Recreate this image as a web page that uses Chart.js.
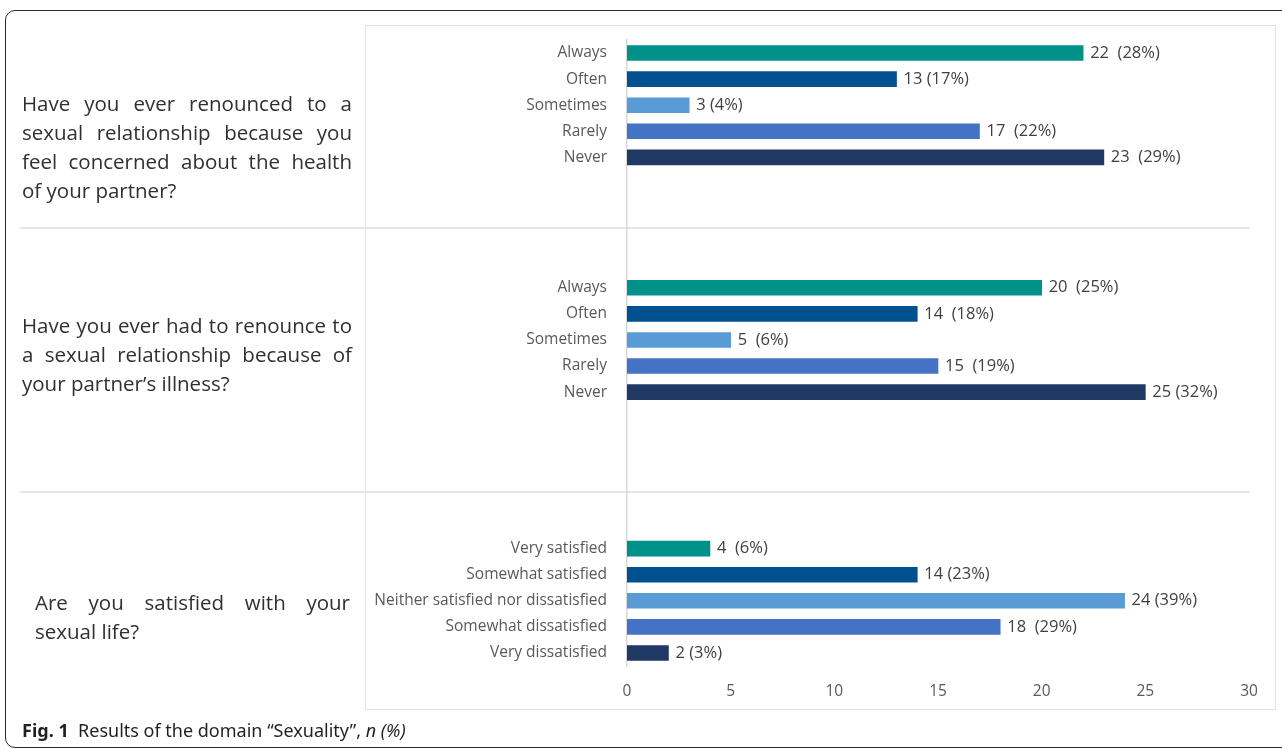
<!DOCTYPE html>
<html>
<head>
<meta charset="utf-8">
<script src="https://cdn.jsdelivr.net/npm/chart.js@4.4.0/dist/chart.umd.min.js"></script>
<style>
  html, body { margin: 0; padding: 0; background: #fff; }
  #wrap { position: relative; width: 1282px; height: 749px; overflow: hidden; }
  #frame { position: absolute; left: 5px; top: 10px; width: 1290px; height: 736px;
           border: 1.5px solid #2b2b2b; border-radius: 10px; }
  #box { position: absolute; left: 365px; top: 25px; width: 909px; height: 683px;
         border: 1.5px solid #e2e2e2; }
  canvas { position: absolute; left: 0; top: 0; }
  .question { position: absolute; font-family: "Open Sans", sans-serif; font-size: 20.5px;
              line-height: 29px; color: #303030; }
  .question div { text-align: justify; text-align-last: justify; white-space: nowrap; }
  .question div.last { text-align-last: left; }
  #caption { position: absolute; left: 22px; top: 718px; font-family: "Noto Sans", sans-serif;
             font-size: 18px; color: #231f20; }
</style>
</head>
<body>
<div id="wrap">
  <div id="frame"></div>
  <div id="box"></div>
  <canvas id="BarChart" width="1282" height="749"></canvas>
  <div class="question" style="left:22px; top:89px; width:330px;">
    <div>Have you ever renounced to a</div>
    <div>sexual relationship because you</div>
    <div>feel concerned about the health</div>
    <div class="last">of your partner?</div>
  </div>
  <div class="question" style="left:22px; top:311px; width:330px;">
    <div>Have you ever had to renounce to</div>
    <div>a sexual relationship because of</div>
    <div class="last">your partner’s illness?</div>
  </div>
  <div class="question" style="left:35px; top:588px; width:315px;">
    <div>Are you satisfied with your</div>
    <div class="last">sexual life?</div>
  </div>
  <div id="caption"><b>Fig. 1</b>&nbsp; Results of the domain “Sexuality”, <i>n (%)</i></div>
</div>
<script>
// answer categories
const frequency = ["Always", "Often", "Sometimes", "Rarely", "Never"];
const satisfaction = ["Very satisfied", "Somewhat satisfied", "Neither satisfied nor dissatisfied",
    "Somewhat dissatisfied", "Very dissatisfied"];

// counts for each question
const renounceHealth = [22, 13, 3, 17, 23];
const renounceHealthText = ["22  (28%)", "13 (17%)", "3 (4%)", "17  (22%)", "23  (29%)"];
const renounceIllness = [20, 14, 5, 15, 25];
const renounceIllnessText = ["20  (25%)", "14  (18%)", "5  (6%)", "15  (19%)", "25 (32%)"];
const satisfied = [4, 14, 24, 18, 2];
const satisfiedText = ["4  (6%)", "14 (23%)", "24 (39%)", "18  (29%)", "2 (3%)"];

const xTicks = [0, 5, 10, 15, 20, 25, 30];
const barColors = ["#00918b", "#01508f", "#5b9bd5", "#4472c4", "#203864"];

// empty slots between the question blocks
const gapA = ["", "", "", ""];
const gapB = ["", "", "", "", ""];
const blank = (arr) => arr.map(() => null);

let labels = [...frequency, ...gapA, ...frequency, ...gapB, ...satisfaction];
let values = [...renounceHealth, ...blank(gapA), ...renounceIllness, ...blank(gapB), ...satisfied];
let valueText = [...renounceHealthText, ...gapA, ...renounceIllnessText, ...gapB, ...satisfiedText];
let colors = [...barColors, ...blank(gapA), ...barColors, ...blank(gapB), ...barColors];

// separators between the blocks, in category units
const separators = [6.7, 16.84];

const valueLabels = {
    id: "valueLabels",
    afterDatasetsDraw(chart) {
        let ctx = chart.ctx;
        let meta = chart.getDatasetMeta(0);
        ctx.save();
        ctx.font = "16.5px 'Open Sans', sans-serif";
        ctx.fillStyle = "#404040";
        ctx.textAlign = "left";
        ctx.textBaseline = "middle";
        meta.data.forEach((bar, i) => {
            if (values[i] === null) return;
            ctx.fillText(valueText[i], bar.x + 7, bar.y);
        });
        ctx.restore();
    }
};

const blockLines = {
    id: "blockLines",
    beforeDraw(chart) {
        let ctx = chart.ctx;
        let y = chart.scales.y;
        ctx.save();
        ctx.strokeStyle = "#e6e6e6";
        ctx.lineWidth = 2;
        separators.forEach(v => {
            let py = Math.round(y.getPixelForValue(v));
            ctx.beginPath();
            ctx.moveTo(20, py);
            ctx.lineTo(chart.chartArea.right + 1, py);
            ctx.stroke();
        });
        ctx.restore();
    }
};

let ctx = document.getElementById("BarChart").getContext("2d");
let barChart = new Chart(ctx, {
    type: "bar",
    data: {
        labels: labels,
        datasets: [{
            data: values,
            backgroundColor: colors,
            barThickness: 15
        }]
    },
    options: {
        indexAxis: "y",
        responsive: false,
        animation: false,
        layout: {padding: {left: 365, right: 33, top: 40, bottom: 0}},
        plugins: {legend: {display: false}, tooltip: {enabled: false}},
        scales: {
            y: {
                afterFit: (scale) => { scale.width = 262; },
                grid: {display: false, drawTicks: false},
                border: {display: true, color: "#d9d9d9", width: 1.5},
                ticks: {
                    autoSkip: false,
                    padding: 20,
                    color: "#595959",
                    font: {family: "'Open Sans'", size: 15.5}
                }
            },
            x: {
                min: xTicks[0],
                max: xTicks[xTicks.length - 1],
                afterFit: (scale) => { scale.height = 83; },
                afterBuildTicks: (scale) => { scale.ticks = xTicks.map(v => ({value: v})); },
                grid: {display: false, drawTicks: false},
                border: {display: false},
                ticks: {
                    padding: 16,
                    color: "#595959",
                    font: {family: "'Open Sans'", size: 15.5}
                }
            }
        }
    },
    plugins: [valueLabels, blockLines]
});
</script>
</body>
</html>
